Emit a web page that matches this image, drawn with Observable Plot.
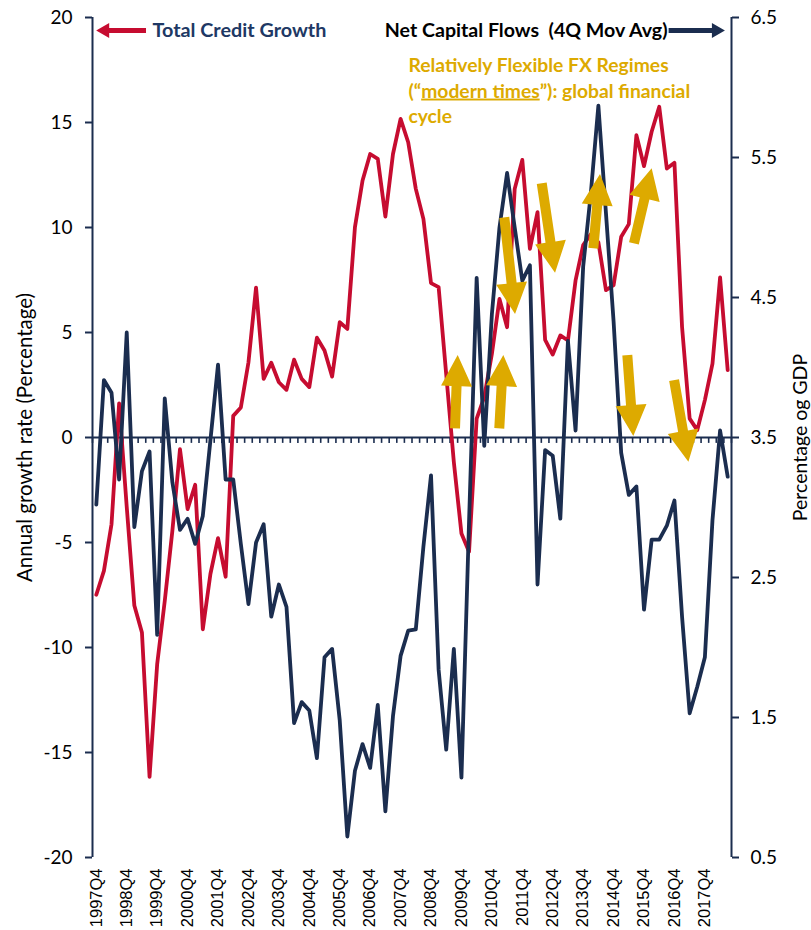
<!DOCTYPE html>
<html>
<head>
<meta charset="utf-8">
<script src="https://cdn.jsdelivr.net/npm/d3@7"></script>
<script src="https://cdn.jsdelivr.net/npm/@observablehq/plot@0.6"></script>
<style>
  body { margin: 0; background: #fff; }
  svg { display: block; }
</style>
</head>
<body>
<div id="chart"></div>
<script>
// ---------- categories ----------
const quarters = d3.range(84).map(i => `${1997 + Math.floor((3 + i) / 4)}Q${((3 + i) % 4) + 1}`);
const tickLabels = quarters.filter(q => q.endsWith("Q4"));

// ---------- series ----------
// Total credit growth, annual growth rate (%), left axis
const creditGrowth = [
  -7.49, -6.35, -4.13, 1.62, -3.3, -8.0, -9.29, -16.16, -10.8, -7.78,
  -4.44, -0.56, -3.41, -2.25, -9.13, -6.5, -4.79, -6.63, 1.03, 1.43,
  3.57, 7.14, 2.79, 3.56, 2.63, 2.27, 3.71, 2.79, 2.40, 4.75,
  4.14, 2.90, 5.49, 5.17, 10.02, 12.24, 13.5, 13.27, 10.52, 13.5,
  15.17, 14.06, 11.84, 10.41, 7.35, 7.16, 3.0, -1.17, -4.57, -5.44,
  0.9, 1.92, 3.98, 6.6, 5.25, 11.84, 13.22, 8.98, 10.73, 4.65,
  3.95, 4.86, 4.62, 7.48, 9.16, 9.68, 9.3, 7.02, 7.25, 9.56,
  10.16, 14.4, 12.92, 14.56, 15.75, 12.81, 13.08, 5.27, 0.9, 0.35,
  1.78, 3.52, 7.62, 3.21
];
// Net capital flows, 4Q moving average (% of GDP), right axis
const capitalFlows = [
  3.02, 3.91, 3.82, 3.20, 4.25, 2.86, 3.26, 3.40, 2.09, 3.78,
  3.18, 2.84, 2.92, 2.74, 2.94, 3.48, 4.02, 3.20, 3.20, 2.74,
  2.31, 2.75, 2.88, 2.22, 2.45, 2.29, 1.46, 1.61, 1.55, 1.21,
  1.93, 1.99, 1.48, 0.65, 1.12, 1.31, 1.14, 1.59, 0.83, 1.51,
  1.94, 2.12, 2.13, 2.72, 3.23, 1.84, 1.27, 1.99, 1.07, 2.90,
  4.64, 3.44, 4.38, 5.00, 5.39, 5.00, 4.62, 4.73, 2.45, 3.41,
  3.37, 2.92, 4.19, 3.55, 4.72, 5.24, 5.87, 5.10, 4.33, 3.39,
  3.09, 3.15, 2.27, 2.77, 2.77, 2.87, 3.05, 2.22, 1.53, 1.72,
  1.93, 2.91, 3.55, 3.22
];

// ---------- axes ----------
const leftTicks = [-20, -15, -10, -5, 0, 5, 10, 15, 20];
const rightTicks = [0.5, 1.5, 2.5, 3.5, 4.5, 5.5, 6.5];
const leftDomain = [-20, 20];
const rightDomain = [0.5, 6.5];
// map right-axis (% of GDP) onto left-axis units
const toLeft = v => Math.round(((v - rightDomain[0]) / (rightDomain[1] - rightDomain[0]) * (leftDomain[1] - leftDomain[0]) + leftDomain[0]) * 1e6) / 1e6;
const fromLeft = v => (v - leftDomain[0]) / (leftDomain[1] - leftDomain[0]) * (rightDomain[1] - rightDomain[0]) + rightDomain[0];

// ---------- annotations (in data units: quarter index, left-axis value) ----------
const regimeArrows = [
  {x1: 47.22, y1: 0.41, x2: 47.57, y2: 3.9},
  {x1: 53.04, y1: 0.41, x2: 53.57, y2: 3.9},
  {x1: 53.70, y1: 10.46, x2: 55.11, y2: 5.86},
  {x1: 58.62, y1: 12.08, x2: 60.37, y2: 7.82},
  {x1: 65.40, y1: 8.99, x2: 66.28, y2: 12.52},
  {x1: 70.74, y1: 9.22, x2: 73.07, y2: 12.8},
  {x1: 69.87, y1: 3.9, x2: 70.66, y2: 0.05},
  {x1: 76.02, y1: 2.71, x2: 77.90, y2: -1.18}
];
const legendArrows = [
  {x1: 6.6, y1: 19.36, x2: 0.05, y2: 19.36, color: "#C60C30"},
  {x1: 75.3, y1: 19.36, x2: 82.7, y2: 19.36, color: "#1B2D4F"}
];
const legendLeft = {x: 7.39, y: 19.36, text: "Total Credit Growth"};
const legendRight = {x: 75.1, y: 19.36, text: "Net Capital Flows\u00a0 (4Q Mov Avg)"};
const regimeNote = {x: 41.03, y: 16.57, text: "Relatively Flexible FX Regimes\n(\u201Cmodern times\u201D): global financial\ncycle"};

// ---------- styles ----------
const RED = "#C60C30", NAVY = "#1B2D4F", GOLD = "#DDAA00";
const LABEL_FONT = "Lato, 'Open Sans', sans-serif";

const rows = quarters.map((q, i) => ({i, q, credit: creditGrowth[i], flows: capitalFlows[i]}));
const catBoundaries = d3.range(0, quarters.length + 1).map(i => i - 0.5);
const xDomain = [-0.5, quarters.length - 0.5];

function blockArrows(data, {shaft, headW, headL, fill}) {
  return (index, scales) => {
    const g = d3.create("svg:g");
    for (const a of data) {
      const x1 = scales.x(a.x1), y1 = scales.y(a.y1), x2 = scales.x(a.x2), y2 = scales.y(a.y2);
      const dx = x2 - x1, dy = y2 - y1, L = Math.hypot(dx, dy);
      const ux = dx / L, uy = dy / L, nx = -uy, ny = ux;
      const bx = x2 - ux * headL, by = y2 - uy * headL;
      const pts = [
        [x1 + nx * shaft / 2, y1 + ny * shaft / 2],
        [bx + nx * shaft / 2, by + ny * shaft / 2],
        [bx + nx * headW / 2, by + ny * headW / 2],
        [x2, y2],
        [bx - nx * headW / 2, by - ny * headW / 2],
        [bx - nx * shaft / 2, by - ny * shaft / 2],
        [x1 - nx * shaft / 2, y1 - ny * shaft / 2]
      ];
      g.append("polygon")
        .attr("points", pts.map(p => p.map(v => v.toFixed(2)).join(",")).join(" "))
        .attr("fill", a.color || fill);
    }
    return g.node();
  };
}

const chart = Plot.plot({
  width: 811,
  height: 930,
  marginLeft: 92,
  marginRight: 80,
  marginTop: 17,
  marginBottom: 73,
  style: {background: "#fff", overflow: "visible"},
  x: {type: "linear", domain: xDomain, axis: null},
  y: {domain: leftDomain, axis: null},
  marks: [
    // zero line and category ticks
    Plot.ruleY([0], {stroke: NAVY, strokeWidth: 2}),
    Plot.ruleX(catBoundaries, {x: d => d, y1: 0, y2: -0.28, stroke: NAVY, strokeWidth: 1.6}),
    // vertical axis lines
    Plot.ruleX(xDomain, {x: d => d, y1: leftDomain[0], y2: leftDomain[1], stroke: NAVY, strokeWidth: 2}),
    // left axis
    Plot.axisY({anchor: "left", ticks: leftTicks, tickFormat: d => String(d), tickSize: 7, tickPadding: 13,
      stroke: NAVY, strokeWidth: 2, fill: "#000", fontSize: 19, fontFamily: LABEL_FONT, label: null}),
    // right axis
    Plot.axisY({anchor: "right", ticks: rightTicks.map(toLeft), tickFormat: v => fromLeft(v).toFixed(1),
      tickSize: 7, tickPadding: 12, stroke: NAVY, strokeWidth: 2, fill: "#000", fontSize: 19,
      fontFamily: LABEL_FONT, label: null}),
    // bottom category labels
    Plot.axisX({anchor: "bottom", ticks: tickLabels.map(q => quarters.indexOf(q)), tickFormat: i => quarters[i],
      tickRotate: -90, tickSize: 0, tickPadding: 11, fontSize: 16.5, fill: "#000",
      fontFamily: "'Liberation Sans', Arial, sans-serif", label: null}),
    // axis titles
    Plot.text(["Annual growth rate (Percentage)"], {frameAnchor: "left", textAnchor: "middle", rotate: -90, dx: -67,
      fontSize: 20.5, fontFamily: LABEL_FONT, fill: "#000"}),
    Plot.text(["Percentage og GDP"], {frameAnchor: "right", textAnchor: "middle", rotate: -90, dx: 69,
      fontSize: 19.5, fontFamily: LABEL_FONT, fill: "#000"}),
    // series
    Plot.line(rows, {x: "i", y: "credit", stroke: RED, strokeWidth: 3.8, strokeLinejoin: "round"}),
    Plot.line(rows, {x: "i", y: d => toLeft(d.flows), stroke: NAVY, strokeWidth: 3.8, strokeLinejoin: "round"}),
    // legend
    blockArrows(legendArrows, {shaft: 5, headW: 15, headL: 13}),
    Plot.text([legendLeft], {x: "x", y: "y", text: "text", textAnchor: "start", fill: "#203864",
      fontWeight: "bold", fontSize: 19.8, fontFamily: LABEL_FONT}),
    Plot.text([legendRight], {x: "x", y: "y", text: "text", textAnchor: "end", fill: "#000",
      fontWeight: "bold", fontSize: 19.6, fontFamily: LABEL_FONT}),
    // annotation
    Plot.text([regimeNote], {x: "x", y: "y", text: "text", textAnchor: "start", lineAnchor: "middle",
      lineHeight: 1.3, fill: GOLD, fontWeight: "bold", fontSize: 19.3, fontFamily: LABEL_FONT}),
    blockArrows(regimeArrows, {shaft: 10, headW: 31, headL: 31, fill: GOLD})
  ]
});

// underline "modern times"
for (const ts of chart.querySelectorAll("text tspan")) {
  const t = ts.textContent;
  const k = t.indexOf("modern times");
  if (k >= 0) {
    ts.textContent = t.slice(0, k);
    const u = document.createElementNS("http://www.w3.org/2000/svg", "tspan");
    u.setAttribute("text-decoration", "underline");
    u.textContent = "modern times";
    ts.appendChild(u);
    const rest = document.createElementNS("http://www.w3.org/2000/svg", "tspan");
    rest.textContent = t.slice(k + "modern times".length);
    ts.appendChild(rest);
  }
}

document.getElementById("chart").appendChild(chart);
</script>
</body>
</html>
